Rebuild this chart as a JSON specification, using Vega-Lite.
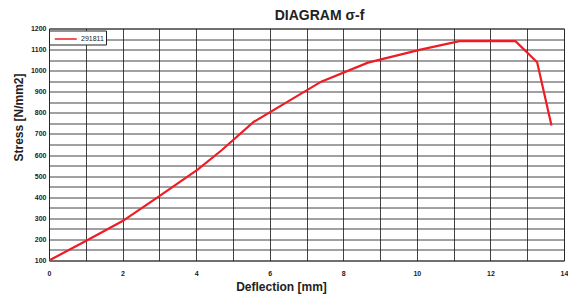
{
  "$schema": "https://vega.github.io/schema/vega-lite/v6.json",
  "autosize": "none",
  "width": 515,
  "height": 232,
  "padding": {"left": 49, "top": 28.5, "right": 4, "bottom": 34.5},
  "background": "white",
  "config": {
    "font": "Liberation Sans",
    "view": {"stroke": "#555", "strokeWidth": 1}
  },
  "title": {
    "text": "DIAGRAM σ-f",
    "font": "Liberation Sans",
    "fontSize": 14,
    "fontWeight": "bold",
    "color": "#222",
    "anchor": "middle",
    "dx": 13,
    "offset": 2
  },
  "data": {
    "values": [
      {"series": "291811", "d": 0, "s": 100},
      {"series": "291811", "d": 1, "s": 192},
      {"series": "291811", "d": 2, "s": 287},
      {"series": "291811", "d": 3, "s": 405},
      {"series": "291811", "d": 4.05, "s": 532},
      {"series": "291811", "d": 4.7, "s": 624},
      {"series": "291811", "d": 5.57, "s": 758},
      {"series": "291811", "d": 7.4, "s": 948},
      {"series": "291811", "d": 8.67, "s": 1038},
      {"series": "291811", "d": 10.1, "s": 1100},
      {"series": "291811", "d": 11.16, "s": 1140},
      {"series": "291811", "d": 12.68, "s": 1140},
      {"series": "291811", "d": 13.27, "s": 1040},
      {"series": "291811", "d": 13.66, "s": 740}
    ]
  },
  "mark": {"type": "line", "strokeWidth": 2.2, "clip": true},
  "encoding": {
    "x": {
      "field": "d",
      "type": "quantitative",
      "scale": {"domain": [0, 14], "nice": false, "zero": false},
      "axis": {
        "values": [0,1,2,3,4,5,6,7,8,9,10,11,12,13,14],
        "labelExpr": "datum.value % 2 == 0 ? datum.label : ''",
        "title": "Deflection [mm]",
        "titleFontSize": 12,
        "titleFontWeight": "bold",
        "titleColor": "#222",
        "titleX": 232,
        "titleY": 29.5,
        "titleBaseline": "alphabetic",
        "labelFontSize": 7,
        "labelFontWeight": "bold",
        "labelColor": "#222",
        "labelPadding": 9,
        "labelFlush": false,
        "ticks": false,
        "domain": false,
        "grid": true,
        "gridColor": "#222",
        "gridWidth": 1,
        "gridOpacity": 0.85
      }
    },
    "y": {
      "field": "s",
      "type": "quantitative",
      "scale": {"domain": [100, 1200], "nice": false, "zero": false},
      "axis": {
        "values": [100,150,200,250,300,350,400,450,500,550,600,650,700,750,800,850,900,950,1000,1050,1100,1150,1200],
        "labelExpr": "datum.value % 100 == 0 ? datum.label : ''",
        "format": "d",
        "title": "Stress [N/mm2]",
        "titleFontSize": 12,
        "titleFontWeight": "bold",
        "titleColor": "#222",
        "titleX": -24,
        "titleY": 88.5,
        "titleAlign": "center",
        "labelFontSize": 7,
        "labelFontWeight": "bold",
        "labelColor": "#222",
        "labelPadding": 3,
        "labelFlush": false,
        "ticks": false,
        "domain": false,
        "grid": true,
        "gridColor": "#222",
        "gridWidth": 1,
        "gridOpacity": 0.85
      }
    },
    "color": {
      "field": "series",
      "type": "nominal",
      "scale": {"range": ["#ee1c25"]},
      "legend": {
        "title": null,
        "orient": "none",
        "legendX": 0,
        "legendY": 2,
        "symbolType": "M-0.5,0H3.5",
        "symbolSize": 121,
        "symbolStrokeWidth": 1.5,
        "labelFontSize": 7,
        "labelColor": "#222",
        "labelOffset": 17,
        "padding": 2,
        "strokeColor": "#222",
        "fillColor": "white"
      }
    }
  }
}
